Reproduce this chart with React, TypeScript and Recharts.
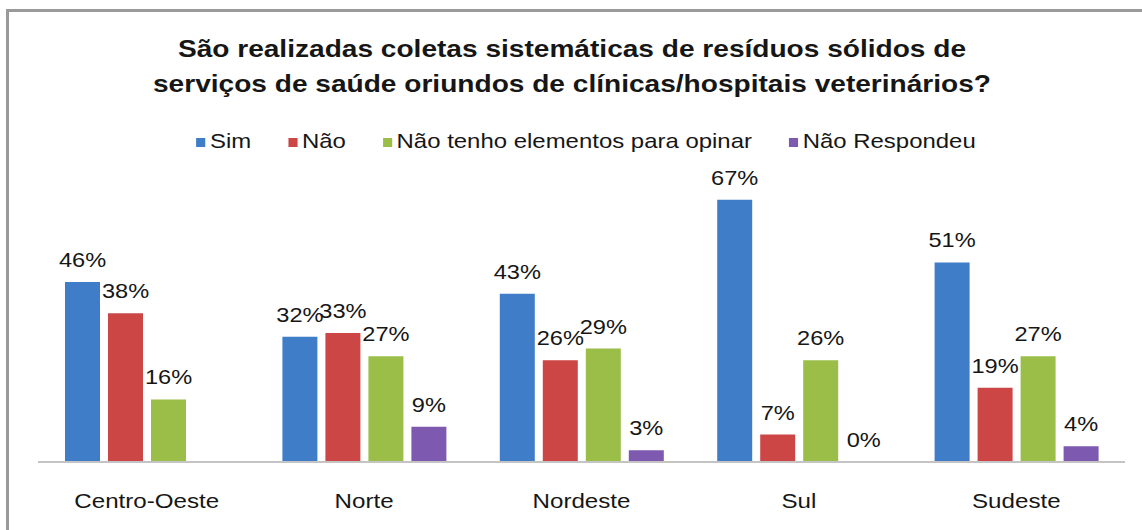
import { BarChart, Bar, XAxis, YAxis, LabelList } from 'recharts'

const regions = ['Centro-Oeste', 'Norte', 'Nordeste', 'Sul', 'Sudeste']
const sim = [46, 32, 43, 67, 51]
const nao = [38, 33, 26, 7, 19]
const semOpiniao = [16, 27, 29, 26, 27]
const naoRespondeu: (number | null)[] = [null, 9, 3, 0, 4]

const SERIES = [
  { key: 'sim', name: 'Sim', color: '#3F7DC8' },
  { key: 'nao', name: 'Não', color: '#CD4646' },
  { key: 'semOpiniao', name: 'Não tenho elementos para opinar', color: '#9BBE48' },
  { key: 'naoRespondeu', name: 'Não Respondeu', color: '#7D5AAF' },
]

const data = regions.map((name, i) => ({
  name,
  sim: sim[i],
  nao: nao[i],
  semOpiniao: semOpiniao[i],
  naoRespondeu: naoRespondeu[i],
}))

const FONT = '"Liberation Sans", Arial, sans-serif'
const TEXT = '#161616'

const renderLabel = (props: any) => {
  const { x, y, width, value } = props
  if (value == null) return null
  const cx = Number(x) + Number(width) / 2
  return (
    <text
      transform={`translate(${cx},${Number(y) - 15}) scale(1.18,1)`}
      textAnchor="middle"
      fontSize={20}
      fontFamily={FONT}
      fill={TEXT}
    >
      {`${value}%`}
    </text>
  )
}

const RegionTick = (props: any) => {
  const { x, y, payload } = props
  return (
    <text
      transform={`translate(${x},${y + 46}) scale(1.15,1)`}
      textAnchor="middle"
      fontSize={21}
      fontFamily={FONT}
      fill={TEXT}
    >
      {payload.value}
    </text>
  )
}

// keep a hairline bar for zero values so their label is still drawn
const minSize = (v: any) => (v === 0 ? 0.01 : 0)

export default function App() {
  return (
    <div style={{ position: 'absolute', left: 0, top: 0, width: 1142, height: 530, overflow: 'hidden', background: '#fff', fontFamily: FONT }}>
      <div style={{ position: 'absolute', left: 6, top: 9, width: 1160, height: 560, borderLeft: '3px solid #9a9a9a', borderTop: '3px solid #9a9a9a' }} />

      <div style={{ position: 'absolute', left: 0, top: 31, width: 1144, textAlign: 'center', fontWeight: 'bold', fontSize: 24, lineHeight: '35px', color: TEXT, transform: 'scaleX(1.17)', transformOrigin: '572px 0' }}>
        <div>São realizadas coletas sistemáticas de resíduos sólidos de</div>
        <div>serviços de saúde oriundos de clínicas/hospitais veterinários?</div>
      </div>

      <div style={{ position: 'absolute', left: 0, top: 129, width: 1172, display: 'flex', justifyContent: 'center', gap: 32.5, fontSize: 21, lineHeight: '24px', color: TEXT, transform: 'scaleX(1.14)', transformOrigin: '586px 0' }}>
        {SERIES.map(s => (
          <div key={s.key} style={{ display: 'flex', alignItems: 'center' }}>
            <span style={{ display: 'inline-block', width: 8, height: 9, background: s.color, marginRight: 4, marginTop: 2 }} />
            <span>{s.name}</span>
          </div>
        ))}
      </div>

      <div style={{ position: 'absolute', left: 0, top: 0 }}>
        <BarChart
          width={1142}
          height={530}
          data={data}
          margin={{ top: 149, right: 17, left: 38, bottom: 8 }}
          barSize={35}
          barGap={8}
        >
          <XAxis
            dataKey="name"
            height={60}
            axisLine={{ stroke: '#c4c4c4', strokeWidth: 2 }}
            tickLine={false}
            tickSize={0}
            tickMargin={0}
            tick={<RegionTick />}
            interval={0}
          />
          <YAxis hide domain={[0, 80]} />
          {SERIES.map(s => (
            <Bar key={s.key} dataKey={s.key} name={s.name} fill={s.color} minPointSize={minSize} isAnimationActive={false}>
              <LabelList dataKey={s.key} content={renderLabel} />
            </Bar>
          ))}
        </BarChart>
      </div>
    </div>
  )
}
